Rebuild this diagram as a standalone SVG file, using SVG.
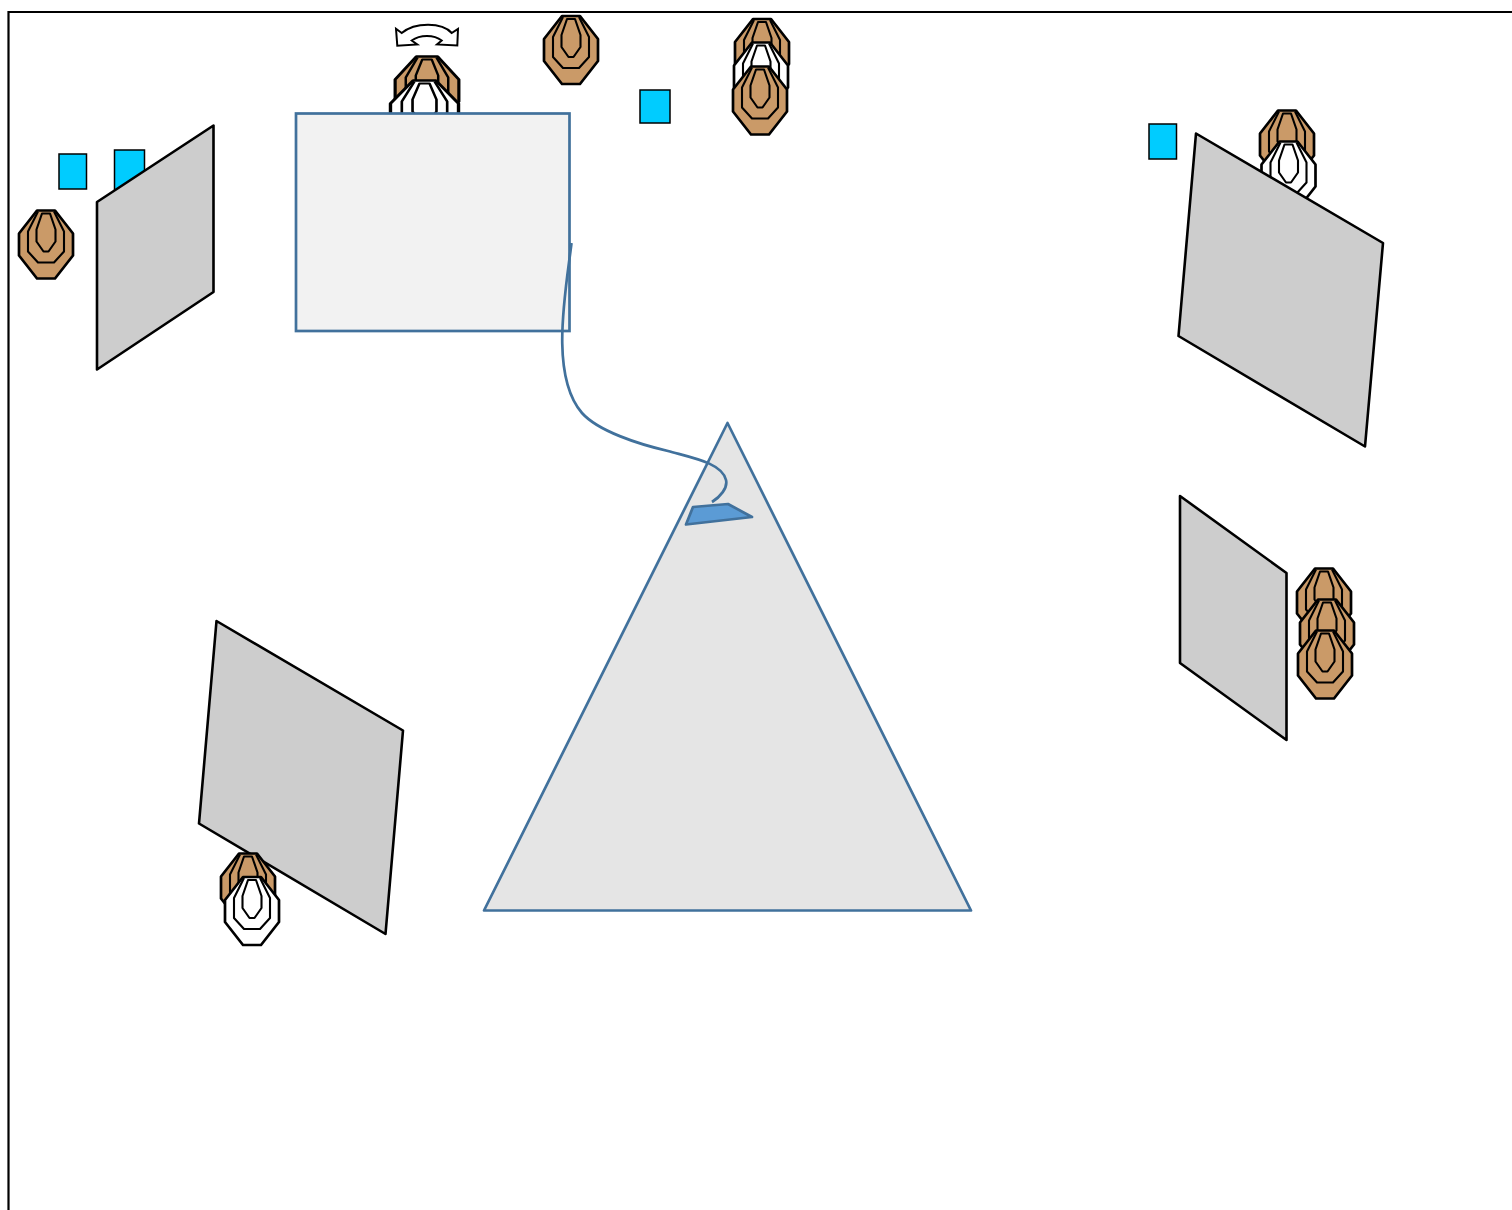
<svg xmlns="http://www.w3.org/2000/svg" width="1512" height="1210" viewBox="0 0 1512 1210">
<style>
.k{stroke:#000;stroke-width:2.700;stroke-linejoin:round;fill:none}
.i{stroke:#000;stroke-width:2.100;stroke-linejoin:round;fill:none}
.panel{fill:#cdcdcd;stroke:#000;stroke-width:2.600;stroke-linejoin:round}
.noshoot{fill:#0cf;stroke:#000;stroke-width:1.500}
.b{stroke:#41719c;stroke-width:2.700;stroke-linejoin:round}
.brown{fill:#ca9a68}
.white{fill:#fff}
</style>
<defs>
<g id="t">
<path class="k" style="fill:inherit" d="M-9-34H9L27-11V11L9 34H-9L-27 11V-11Z"/>
<path class="i" d="M-8-33-18-13V7L-8 18H8L18 7V-13L8-33"/>
<path class="i" d="M-4-31H4L9.500-15V-3L2.500 7H-2.500L-9.500-3V-15Z"/>
</g>
</defs>
<g id="frame"><path d="M8.500 1210V12H1512" fill="none" stroke="#000" stroke-width="2.200"/></g>
<g id="noshoot-1"><rect class="noshoot" x="59" y="154" width="27.500" height="35"/></g>
<g id="noshoot-2"><rect class="noshoot" x="114.500" y="150" width="30" height="40"/></g>
<g id="noshoot-3"><rect class="noshoot" x="640" y="90" width="30" height="33"/></g>
<g id="noshoot-4"><rect class="noshoot" x="1149" y="124" width="27.500" height="35"/></g>
<g id="target-1"><use href="#t" class="brown" x="46" y="244.500"/></g>
<g id="panel-1"><path class="panel" d="M213.500 125.500V292L97 369.500V202Z"/></g>
<g id="swing-arrow"><path d="M396 28.800 401.700 33C415 22 442 22 451.700 33L458 28.800 457.300 45.500 437 44.500 441.700 40.500C434 34.500 420 34.500 411.700 40.500L417.300 44.500 397.300 45.800Z" fill="#fff" stroke="#000" stroke-width="2" stroke-linejoin="miter"/></g>
<g id="target-2"><use href="#t" class="brown" transform="translate(427 90.500) scale(1.180 1)"/></g>
<g id="target-3"><use href="#t" class="white" transform="translate(424.500 114.500) scale(1.260 1)"/></g>
<g id="wall"><rect x="296" y="113.500" width="273.500" height="217.500" fill="#f2f2f2" stroke="#41719c" stroke-width="2.700"/></g>
<g id="target-4"><use href="#t" class="brown" x="571" y="50"/></g>
<g id="target-5"><use href="#t" class="brown" x="762" y="53"/></g>
<g id="target-6"><use href="#t" class="white" x="761" y="76.500"/></g>
<g id="target-7"><use href="#t" class="brown" x="760" y="100.500"/></g>
<g id="target-8"><use href="#t" class="brown" x="1287" y="144.500"/></g>
<g id="target-9"><use href="#t" class="white" x="1288.500" y="175.500"/></g>
<g id="panel-2"><path class="panel" d="M1196 133.500 1383 243 1365 446.500 1178.500 336Z"/></g>
<g id="panel-3"><path class="panel" d="M1180 496 1286.500 573V740L1180 663Z"/></g>
<g id="target-10"><use href="#t" class="brown" x="1324" y="602.500"/></g>
<g id="target-11"><use href="#t" class="brown" x="1327" y="633.500"/></g>
<g id="target-12"><use href="#t" class="brown" x="1325" y="664.500"/></g>
<g id="panel-4"><path class="panel" d="M216.500 621 403 730.500 385.500 934 199 823.500Z"/></g>
<g id="target-13"><use href="#t" class="brown" x="248" y="887.500"/></g>
<g id="target-14"><use href="#t" class="white" x="252" y="911"/></g>
<g id="shooting-box"><path class="b" d="M727.500 423 971 910.500H484Z" fill="#e5e5e5"/></g>
<g id="shooter"><path class="b" d="M693 507 728 504 752 517 686 524.500Z" fill="#5b9bd5"/></g>
<g id="connectors"><path class="b" fill="none" d="M571.500 243C566 290 549 375 582 413C598 431 638 444 668 451C693 458 722 463 726 480C728 488 720 497 712 502"/></g>
</svg>
